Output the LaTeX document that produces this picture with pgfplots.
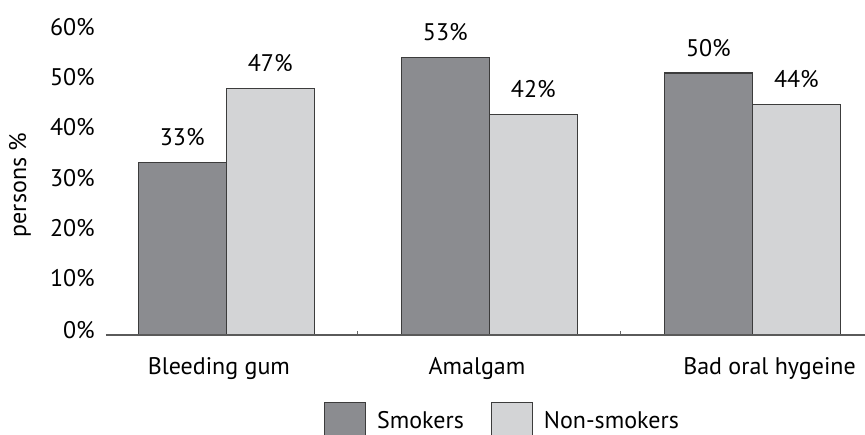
\documentclass[border=0pt]{standalone}
\usepackage{fontspec}
\setmainfont{PT Sans}
\usepackage{pgfplots}
\pgfplotsset{compat=1.18}
\definecolor{smk}{HTML}{8B8C90}
\definecolor{nsm}{HTML}{D3D4D6}
\definecolor{edge}{HTML}{3C3C3C}
\definecolor{basel}{HTML}{5A5A5A}
\begin{document}
\fontsize{24}{28}\selectfont
\begin{tikzpicture}
\useasboundingbox (-106pt,-99pt) rectangle (759pt,335pt);
\begin{axis}[
  scale only axis, width=759pt, height=314.4pt,
  xmin=-0.457, xmax=2.428, ymin=0, ymax=60,
  ybar=0pt, bar width=88pt,
  axis line style={draw=none},
  /pgf/number format/assume math mode=true,
  xtick={-0.028,0.953,2.065},
  xticklabels={Bleeding gum,Amalgam,Bad oral hygeine},
  xtick pos=bottom, ytick pos=left,
  major x tick style={draw=none},
  minor xtick={0.5,1.5},
  minor x tick style={draw=black!60, line width=0.8pt},
  minor tick length=4pt, tick align=inside,
  ytick={0.95,10.9,20.4,30,39.7,49.2,58.8},
  yticklabels={0\%,10\%,20\%,30\%,40\%,50\%,60\%},
  major y tick style={draw=none},
  xticklabel style={anchor=base, inner sep=0pt, yshift=-39pt},
  yticklabel style={anchor=east, inner sep=0pt, xshift=-11pt},
  ylabel={persons \%},
  every axis y label/.style={at={(axis description cs:-0.1133,0.477)}, rotate=90, anchor=center},
  nodes near coords={\pgfmathprintnumber{\pgfplotspointmeta}\%},
  every node near coord/.append style={anchor=base, yshift=17pt, inner sep=0pt, text=black},
  legend style={draw=none, fill=none, inner sep=0pt, outer sep=0pt,
    at={(rel axis cs:0.2872,-0.2135)}, anchor=north west,
    nodes={inner sep=0pt},
    /tikz/every odd column/.style={column sep=11pt},
    /tikz/every even column/.style={column sep=27pt}},
  legend columns=2,
  legend image code/.code={\draw[#1] (0pt,-16pt) rectangle (41pt,19pt);},
]
\addplot[fill=smk, draw=edge, line width=1.1pt] coordinates {(0,33) (1,53) (2,50)};
\addplot[fill=nsm, draw=edge, line width=1.1pt] coordinates {(0,47) (1,42) (2,44)};
\draw[basel, line width=2.2pt] (rel axis cs:0,0) -- (rel axis cs:1,0);
\legend{Smokers,Non-smokers}
\end{axis}
\end{tikzpicture}
\end{document}
